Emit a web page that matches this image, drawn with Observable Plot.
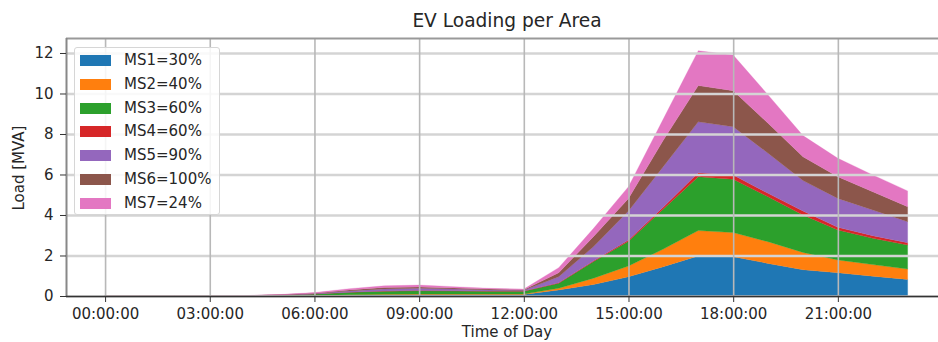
<!DOCTYPE html>
<html>
<head>
<meta charset="utf-8">
<script src="https://cdn.jsdelivr.net/npm/d3@7"></script>
<script src="https://cdn.jsdelivr.net/npm/@observablehq/plot@0.6"></script>
<style>
  html, body { margin: 0; padding: 0; background: #fff; }
  #wrap { position: relative; width: 938px; height: 342px; overflow: hidden; font-family: "DejaVu Sans", sans-serif; color: #262626; }
  #wrap svg { position: absolute; left: 0; top: 0; }
  .title { position: absolute; left: 0; width: 1014px; top: 10px; text-align: center; font-size: 18.6px; line-height: 22px; }
  .xlabel { position: absolute; left: 0; width: 1014px; top: 323px; text-align: center; font-size: 15px; line-height: 18px; }
  .ylabel { position: absolute; left: 19px; top: 168px; font-size: 15px; line-height: 18px; white-space: nowrap; transform: translate(-50%, -50%) rotate(-90deg); }
  .legend { position: absolute; left: 74px; top: 47px; width: 146px; height: 168px; border: 1px solid #d6d6d6; border-radius: 3px; background: rgba(255,255,255,0.85); box-sizing: border-box; }
  .legend .item { position: absolute; left: 0; height: 20px; display: flex; align-items: center; font-size: 15px; }
  .legend .patch { position: absolute; left: 5px; top: 5px; width: 31px; height: 11px; }
  .legend .lab { position: absolute; left: 49px; top: 0; line-height: 20px; white-space: nowrap; }
</style>
</head>
<body>
<div id="wrap"></div>
<script>
// ---- data ----
const hours = [0,1,2,3,4,5,6,7,8,9,10,11,12,13,14,15,16,17,18,19,20,21,22,23];
const xTicks = [0,3,6,9,12,15,18,21];
const xTickLabels = ["00:00:00","03:00:00","06:00:00","09:00:00","12:00:00","15:00:00","18:00:00","21:00:00"];
const yTicks = [0,2,4,6,8,10,12];
const seriesNames = ["MS1=30%","MS2=40%","MS3=60%","MS4=60%","MS5=90%","MS6=100%","MS7=24%"];
const colors = ["#1f77b4","#ff7f0e","#2ca02c","#d62728","#9467bd","#8c564b","#e377c2"];

const ms1 = [0,0,0,0,0,0,0.02,0.04,0.06,0.07,0.07,0.07,0.08,0.30,0.57,0.95,1.45,1.98,1.94,1.61,1.30,1.15,0.98,0.82];
const ms2 = [0,0,0,0,0,0,0.01,0.02,0.03,0.03,0.03,0.03,0.02,0.08,0.31,0.53,0.87,1.25,1.19,1.07,0.85,0.63,0.57,0.51];
const ms3 = [0,0,0,0,0.01,0.04,0.07,0.12,0.15,0.16,0.15,0.14,0.14,0.25,0.82,1.22,1.98,2.66,2.63,2.22,1.85,1.48,1.30,1.19];
const ms4 = [0,0,0,0,0,0,0,0.01,0.01,0.01,0.01,0.01,0.01,0.02,0.04,0.06,0.10,0.20,0.21,0.17,0.20,0.13,0.13,0.11];
const ms5 = [0,0,0,0,0,0.01,0.02,0.06,0.10,0.11,0.08,0.05,0.03,0.30,0.70,1.44,2.00,2.51,2.39,1.98,1.50,1.43,1.27,1.04];
const ms6 = [0,0,0,0,0,0.01,0.02,0.05,0.07,0.07,0.06,0.04,0.03,0.20,0.50,0.62,1.30,1.79,1.78,1.48,1.18,1.07,0.90,0.74];
const ms7 = [0,0,0,0,0.01,0.01,0.03,0.06,0.08,0.09,0.06,0.04,0.03,0.25,0.40,0.58,1.05,1.72,1.76,1.40,1.04,0.91,0.83,0.78];
const seriesValues = [ms1, ms2, ms3, ms4, ms5, ms6, ms7];

const xDomain = [-1.12, 23.87];
const yDomain = [0, 12.74];

// ---- table ----
const rows = [];
seriesValues.forEach((vals, i) => {
  vals.forEach((v, j) => rows.push({hour: hours[j], value: v, series: seriesNames[i]}));
});

const chart = Plot.plot({
  width: 938,
  height: 342,
  marginLeft: 66,
  marginRight: 0,
  marginTop: 38,
  marginBottom: 46,
  style: {fontFamily: "DejaVu Sans, sans-serif", fontSize: "15px", color: "#262626", background: "transparent"},
  x: {domain: xDomain, label: null},
  y: {domain: yDomain, label: null},
  color: {domain: seriesNames, range: colors},
  marks: [
    Plot.areaY(rows, {x: "hour", y: "value", z: "series", fill: "series", order: null, curve: "linear", stroke: "series", strokeWidth: 0.3}),
    Plot.gridY(yTicks, {stroke: "#d4d4d4", strokeOpacity: 1, strokeWidth: 2.5}),
    Plot.gridX(xTicks, {stroke: "#b8b8b8", strokeOpacity: 1, strokeWidth: 1.6}),
    Plot.ruleY([yDomain[1]], {stroke: "#999", strokeWidth: 2}),
    Plot.ruleX([xDomain[0]], {stroke: "#888", strokeWidth: 2}),
    Plot.ruleY([yDomain[0]], {stroke: "#333", strokeWidth: 1.6}),
    Plot.axisX({ticks: xTicks, tickFormat: (d) => xTickLabels[xTicks.indexOf(d)], tickSize: 6, tickPadding: 6, stroke: "#333", label: null}),
    Plot.axisY({ticks: yTicks, tickSize: 6, tickPadding: 7, stroke: "#333", label: null})
  ]
});

const wrap = document.getElementById("wrap");
wrap.appendChild(chart);

const title = document.createElement("div");
title.className = "title";
title.textContent = "EV Loading per Area";
wrap.appendChild(title);

const xl = document.createElement("div");
xl.className = "xlabel";
xl.textContent = "Time of Day";
wrap.appendChild(xl);

const yl = document.createElement("div");
yl.className = "ylabel";
yl.textContent = "Load [MVA]";
wrap.appendChild(yl);

const legend = document.createElement("div");
legend.className = "legend";
seriesNames.forEach((name, i) => {
  const item = document.createElement("div");
  item.className = "item";
  item.style.top = (2 + i * 23.8) + "px";
  item.innerHTML = `<span class="patch" style="background:${colors[i]}"></span><span class="lab">${name}</span>`;
  legend.appendChild(item);
});
wrap.appendChild(legend);
</script>
</body>
</html>
